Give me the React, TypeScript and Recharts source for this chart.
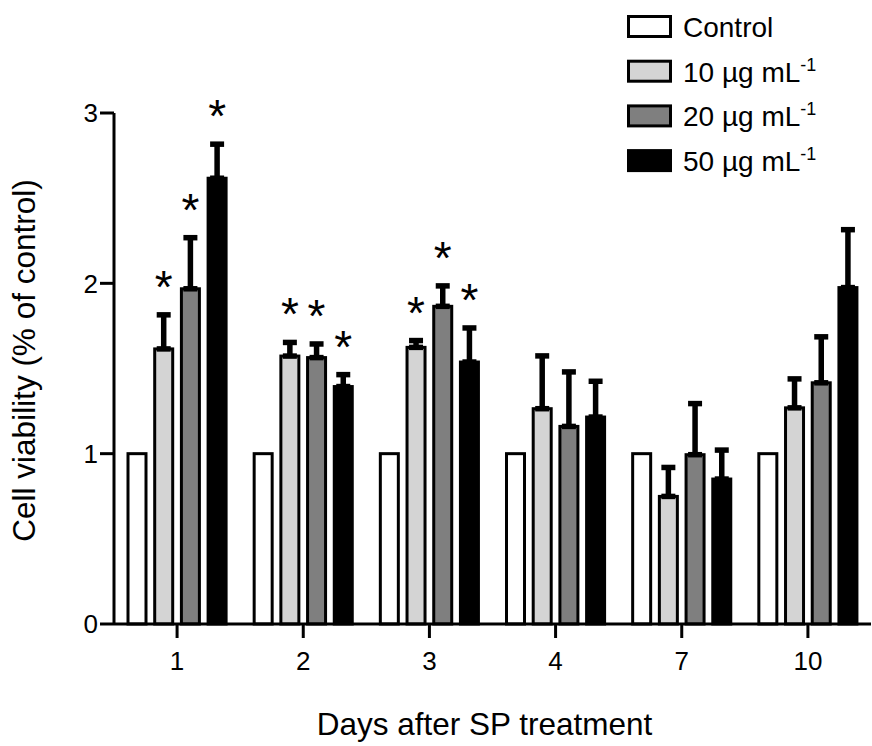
import React from 'react';
import { BarChart, Bar, XAxis, YAxis, ErrorBar } from 'recharts';

const days = ['1', '2', '3', '4', '7', '10'];
const control = [1, 1, 1, 1, 1, 1];
const dose10 = [1.615, 1.573, 1.624, 1.264, 0.749, 1.269];
const dose20 = [1.968, 1.564, 1.865, 1.16, 0.994, 1.416];
const dose50 = [2.617, 1.394, 1.538, 1.215, 0.851, 1.975];
const err10 = [0.2, 0.08, 0.04, 0.31, 0.17, 0.17];
const err20 = [0.3, 0.08, 0.12, 0.32, 0.3, 0.27];
const err50 = [0.2, 0.07, 0.2, 0.21, 0.17, 0.34];
const sig10 = [true, true, true, false, false, false];
const sig20 = [true, true, true, false, false, false];
const sig50 = [true, true, true, false, false, false];
const yTicks = [0, 1, 2, 3];

const seriesNames = ['Control', '10 µg mL', '20 µg mL', '50 µg mL'];
const seriesColors = ['#ffffff', '#d4d4d4', '#7f7f7f', '#000000'];

const FONT = 'Arial, "Liberation Sans", Helvetica, sans-serif';

const data = days.map((d, i) => ({
  day: d,
  control: control[i],
  d10: dose10[i],
  d20: dose20[i],
  d50: dose50[i],
  e10: [0, err10[i]],
  e20: [0, err20[i]],
  e50: [0, err50[i]],
  s10: sig10[i],
  s20: sig20[i],
  s50: sig50[i],
}));

const makeShape = (fill: string, valueKey: string, errKey?: string, sigKey?: string) => (props: any) => {
  const { x, y, width, height, payload } = props;
  const v = payload ? payload[valueKey] : 0;
  const ppu = v ? height / v : 0;
  const e = errKey && payload && payload[errKey] ? payload[errKey][1] : 0;
  const errTop = y - e * ppu;
  const sig = sigKey && payload ? payload[sigKey] : false;
  return (
    <g>
      <rect x={x} y={y} width={width} height={height} fill={fill} stroke="#000" strokeWidth={3} />
      {sig ? (
        <text x={x + width / 2} y={errTop - 12} textAnchor="middle" fontSize={46} fontFamily={FONT} fill="#000">
          *
        </text>
      ) : null}
    </g>
  );
};

const XTitle = (props: any) => {
  const vb = props && props.viewBox ? props.viewBox : { x: 114, y: 624, width: 757, height: 122 };
  return (
    <text x={vb.x + vb.width / 2 - 8} y={vb.y + 111} textAnchor="middle" fontSize={31.5} fontFamily={FONT} fill="#000">
      Days after SP treatment
    </text>
  );
};

const YTitle = (props: any) => {
  const vb = props && props.viewBox ? props.viewBox : { x: 0, y: 113, width: 114, height: 511 };
  const cx = vb.x + 35;
  const cy = vb.y + vb.height / 2 - 8;
  return (
    <text x={cx} y={cy} transform={`rotate(-90, ${cx}, ${cy})`} textAnchor="middle" fontSize={31.5} fontFamily={FONT} fill="#000">
      Cell viability (% of control)
    </text>
  );
};

const Legend = () => (
  <svg width={872} height={200} style={{ position: 'absolute', left: 0, top: 0, pointerEvents: 'none' }}>
    {seriesNames.map((n, i) => {
      const top = 15 + i * 44.7;
      return (
        <g key={n}>
          <rect x={628.5} y={top + 1.5} width={42} height={20} fill={seriesColors[i]} stroke="#000" strokeWidth={3} />
          <text x={683} y={top + 22} fontSize={28} fontFamily={FONT} fill="#000">
            {n}
            {i > 0 ? (
              <tspan dy={-11} fontSize={18}>
                -1
              </tspan>
            ) : null}
          </text>
        </g>
      );
    })}
  </svg>
);

export default function App() {
  const tickStyle = { fill: '#000', fontSize: 26, fontFamily: FONT };
  return (
    <div style={{ position: 'absolute', left: 0, top: 0, width: 872, height: 746, background: '#fff' }}>
      <BarChart
        width={872}
        height={746}
        data={data}
        margin={{ top: 113, right: 1, bottom: 0, left: 0 }}
        barSize={18}
        barGap={8.7}
      >
        <XAxis
          dataKey="day"
          height={122}
          tickSize={14}
          tickMargin={14}
          tick={tickStyle}
          axisLine={{ stroke: '#000', strokeWidth: 3 }}
          tickLine={{ stroke: '#000', strokeWidth: 3 }}
          label={(p: any) => <XTitle {...p} />}
        />
        <YAxis
          width={114}
          domain={[0, 3]}
          ticks={yTicks}
          tickSize={14}
          tickMargin={2}
          tick={tickStyle}
          axisLine={{ stroke: '#000', strokeWidth: 3 }}
          tickLine={{ stroke: '#000', strokeWidth: 3 }}
          label={(p: any) => <YTitle {...p} />}
        />
        <Bar dataKey="control" isAnimationActive={false} shape={makeShape(seriesColors[0], 'control')} />
        <Bar dataKey="d10" isAnimationActive={false} shape={makeShape(seriesColors[1], 'd10', 'e10', 's10')}>
          <ErrorBar dataKey="e10" width={7} strokeWidth={5.5} stroke="#000" direction="y" isAnimationActive={false} />
        </Bar>
        <Bar dataKey="d20" isAnimationActive={false} shape={makeShape(seriesColors[2], 'd20', 'e20', 's20')}>
          <ErrorBar dataKey="e20" width={7} strokeWidth={5.5} stroke="#000" direction="y" isAnimationActive={false} />
        </Bar>
        <Bar dataKey="d50" isAnimationActive={false} shape={makeShape(seriesColors[3], 'd50', 'e50', 's50')}>
          <ErrorBar dataKey="e50" width={7} strokeWidth={5.5} stroke="#000" direction="y" isAnimationActive={false} />
        </Bar>
      </BarChart>
      <Legend />
    </div>
  );
}
